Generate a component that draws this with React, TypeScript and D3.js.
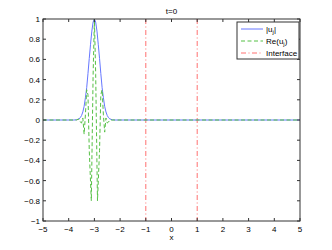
import React, { useEffect, useRef } from 'react'
import * as d3 from 'd3'

// |u_j| envelope (x, value)
const absX = [-5, -3.8, -3.7, -3.6, -3.55, -3.5, -3.45, -3.4, -3.35, -3.3, -3.25, -3.2, -3.15, -3.1, -3.05, -3.0,
  -2.95, -2.9, -2.85, -2.8, -2.75, -2.7, -2.65, -2.6, -2.55, -2.5, -2.45, -2.4, -2.3, -2.2, 5]
const absU = [0, 0, 0.002, 0.011, 0.023, 0.044, 0.08, 0.135, 0.22, 0.32, 0.46, 0.61, 0.75, 0.88, 0.97, 1.0,
  0.97, 0.88, 0.75, 0.61, 0.46, 0.32, 0.22, 0.135, 0.08, 0.044, 0.023, 0.011, 0.002, 0, 0]

// Re(u_j) (x, value)
const reX = [-5, -3.7, -3.6, -3.55, -3.5, -3.45, -3.4, -3.35, -3.3, -3.25, -3.2, -3.12, -3.05, -3.0,
  -2.95, -2.88, -2.8, -2.75, -2.7, -2.65, -2.6, -2.55, -2.5, -2.45, -2.4, 5]
const reU = [0, 0, 0.01, -0.02, -0.03, 0.02, -0.14, 0.05, 0.3, 0.25, -0.3, -0.8, 0.45, 1.0,
  0.45, -0.8, -0.3, 0.25, 0.3, 0.05, -0.12, 0.02, -0.03, -0.02, 0, 0]

const interfaceX = [-1, 1]
const xTicks = [-5, -4, -3, -2, -1, 0, 1, 2, 3, 4, 5]
const yTicks = [-1, -0.8, -0.6, -0.4, -0.2, 0, 0.2, 0.4, 0.6, 0.8, 1]

const W = 332
const H = 250

const BLUE = '#6677ff'
const GREEN = '#55c044'
const RED = '#ff7070'

export default function App() {
  const ref = useRef<SVGSVGElement>(null)

  useEffect(() => {
    const svg = d3.select(ref.current)
    svg.selectAll('*').remove()
    const m = { top: 19, right: 32, bottom: 29, left: 43 }
    const x = d3.scaleLinear().domain([-5, 5]).range([m.left, W - m.right])
    const y = d3.scaleLinear().domain([-1, 1]).range([H - m.bottom, m.top])
    const font = 'Liberation Sans, Arial, sans-serif'
    const axisColor = '#333'

    svg.append('rect').attr('width', W).attr('height', H).attr('fill', '#fff')

    // interface lines
    svg.selectAll('line.iface').data(interfaceX).enter().append('line')
      .attr('x1', d => x(d)).attr('x2', d => x(d))
      .attr('y1', y(1)).attr('y2', y(-1))
      .attr('stroke', RED).attr('stroke-dasharray', '5,2.5,1,2.5')

    const absPts: [number, number][] = absX.map((v, i) => [x(v), y(absU[i])])
    const rePts: [number, number][] = reX.map((v, i) => [x(v), y(reU[i])])

    svg.append('path').attr('d', d3.line()(absPts)).attr('fill', 'none')
      .attr('stroke', BLUE).attr('stroke-width', 1)
    svg.append('path').attr('d', d3.line()(rePts)).attr('fill', 'none')
      .attr('stroke', GREEN).attr('stroke-width', 1).attr('stroke-dasharray', '4,2.5')

    // box
    svg.append('rect').attr('x', x(-5)).attr('y', y(1))
      .attr('width', x(5) - x(-5)).attr('height', y(-1) - y(1))
      .attr('fill', 'none').attr('stroke', axisColor).attr('stroke-width', 1)

    // ticks inward on all sides
    const tl = 3
    xTicks.forEach(t => {
      svg.append('line').attr('x1', x(t)).attr('x2', x(t)).attr('y1', y(-1)).attr('y2', y(-1) - tl).attr('stroke', axisColor)
      svg.append('line').attr('x1', x(t)).attr('x2', x(t)).attr('y1', y(1)).attr('y2', y(1) + tl).attr('stroke', axisColor)
      svg.append('text').attr('x', x(t)).attr('y', y(-1) + 11).attr('text-anchor', 'middle')
        .attr('font-family', font).attr('font-size', 8).attr('fill', '#000')
        .text(t < 0 ? '\u2212' + Math.abs(t) : String(t))
    })
    yTicks.forEach(t => {
      svg.append('line').attr('x1', x(-5)).attr('x2', x(-5) + tl).attr('y1', y(t)).attr('y2', y(t)).attr('stroke', axisColor)
      svg.append('line').attr('x1', x(5)).attr('x2', x(5) - tl).attr('y1', y(t)).attr('y2', y(t)).attr('stroke', axisColor)
      const s = String(Math.abs(t))
      svg.append('text').attr('x', x(-5) - 3).attr('y', y(t) + 3).attr('text-anchor', 'end')
        .attr('font-family', font).attr('font-size', 8).attr('fill', '#000')
        .text(t < 0 ? '\u2212' + s : s)
    })

    svg.append('text').attr('x', (x(-5) + x(5)) / 2).attr('y', 14).attr('text-anchor', 'middle')
      .attr('font-family', font).attr('font-size', 8).text('t=0')
    svg.append('text').attr('x', (x(-5) + x(5)) / 2).attr('y', 240).attr('text-anchor', 'middle')
      .attr('font-family', font).attr('font-size', 8).text('x')

    // legend
    const lg = svg.append('g')
    lg.append('rect').attr('x', 237).attr('y', 22).attr('width', 62).attr('height', 37)
      .attr('fill', '#fff').attr('stroke', axisColor)
    const items = [
      { label: 'u', stroke: BLUE, dash: null, kind: 'abs' },
      { label: 'Re(u', stroke: GREEN, dash: '4,2.5', kind: 're' },
      { label: 'Interface', stroke: RED, dash: '5,2.5,1,2.5', kind: 'if' },
    ]
    items.forEach((it, i) => {
      const yy = 29 + i * 12
      lg.append('line').attr('x1', 241).attr('x2', 263).attr('y1', yy).attr('y2', yy)
        .attr('stroke', it.stroke).attr('stroke-dasharray', it.dash)
      const t = lg.append('text').attr('x', 266).attr('y', yy + 3)
        .attr('font-family', font).attr('font-size', 8).attr('fill', '#000')
      if (it.kind === 'abs') {
        t.append('tspan').text('|u')
        t.append('tspan').attr('font-size', 6).attr('dy', 2).text('j')
        t.append('tspan').attr('dy', -2).text('|')
      } else if (it.kind === 're') {
        t.append('tspan').text('Re(u')
        t.append('tspan').attr('font-size', 6).attr('dy', 2).text('j')
        t.append('tspan').attr('dy', -2).text(')')
      } else {
        t.text(it.label)
      }
    })
  }, [])

  return <svg ref={ref} width={W} height={H} style={{ position: 'absolute', left: 0, top: 0 }} />
}
